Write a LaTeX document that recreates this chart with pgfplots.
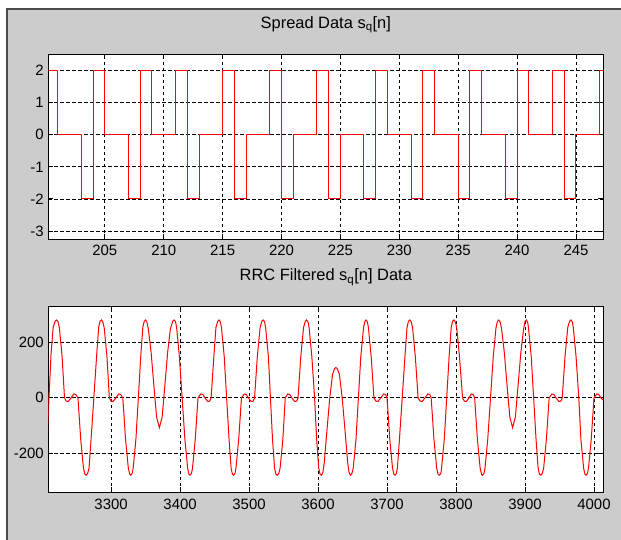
\documentclass[border=0pt]{standalone}
\usepackage{pgfplots}
\pgfplotsset{compat=1.18}
\usepackage{fontspec}
\setmainfont{Liberation Sans}

\definecolor{figgray}{RGB}{204,204,204}

\pgfplotsset{
  matlab/.style={
    scale only axis,
    width=555bp,
    axis background/.style={fill=white},
    axis line style={black, line width=0.9bp},
    tick align=inside,
    xtick pos=both, ytick pos=both,
    major tick length=5bp,
    tick style={black, line width=0.9bp},
    grid=major,
    major grid style={black, line width=0.8bp, dash pattern=on 3.5bp off 2.5bp},
    ticklabel style={font=\fontsize{15}{15}\selectfont},
    xticklabel style={yshift=-3bp},
    yticklabel style={xshift=-1bp},
    title style={at={(0.5,1)}, anchor=base, yshift=20bp, font=\fontsize{16.5}{16.5}\selectfont},
  },
}

\begin{document}
\begin{tikzpicture}
\fill[white] (0,0) rectangle (621bp,-540bp);
\fill[figgray] (7bp,-9bp) rectangle (621bp,-540bp);
\draw[black!70, line width=1.5bp] (7bp,-540bp) -- (7bp,-9bp) -- (621bp,-9bp);

% spread data
\begin{axis}[matlab,
  at={(48.3bp,-239bp)}, anchor=south west,
  height=185bp,
  xmin=200.2, xmax=247.32,
  ymin=-3.25, ymax=2.52,
  xtick={205,210,215,220,225,230,235,240,245},
  xticklabels={205,210,215,220,225,230,235,240,245},
  ytick={-3,-2,-1,0,1,2},
  yticklabels={-3,-2,-1,0,1,2},
  title={Spread Data s\textsubscript{q}[n]},
]
\addplot[const plot, red, line width=1bp] coordinates {
  (200,2) (201,0) (202,0) (203,-2) (204,2) (205,0) (206,0) (207,-2)
  (208,2) (209,0) (210,0) (211,2) (212,-2) (213,0) (214,0) (215,2)
  (216,-2) (217,0) (218,0) (219,2) (220,-2) (221,0) (222,0) (223,2)
  (224,-2) (225,0) (226,0) (227,-2) (228,2) (229,0) (230,0) (231,-2)
  (232,2) (233,0) (234,0) (235,-2) (236,2) (237,0) (238,0) (239,-2)
  (240,2) (241,0) (242,0) (243,2) (244,-2) (245,0) (246,0) (247,2)
  (248,2)
};
\end{axis}

% RRC filtered data
\begin{axis}[matlab,
  at={(48.3bp,-492.3bp)}, anchor=south west,
  height=185.6bp,
  xmin=3209, xmax=4013.5,
  ymin=-342, ymax=330,
  xtick={3300,3400,3500,3600,3700,3800,3900,4000},
  xticklabels={3300,3400,3500,3600,3700,3800,3900,4000},
  ytick={-200,0,200},
  yticklabels={-200,0,200},
  title={RRC Filtered s\textsubscript{q}[n] Data},
]
\addplot[red, line width=1bp] coordinates {
(3208,-130)(3210,0)(3213,160)(3216,255)(3219,278)(3221,282)(3223,276)
(3225,255)(3229,150)(3232.5,0)(3235,-12)(3238,-13)(3242,0)(3246,14)(3249,12)(3252,0)(3256,-150)(3260,-255)(3262,-276)(3264,-280)(3266,-274)
(3268,-255)(3271,-150)(3275,0)(3279,150)(3282,255)(3284,277)(3286,282)(3288,275)
(3290,255)(3294,150)(3297.5,0)(3300,-12)(3303,-13)(3307,0)(3311,14)(3314,12)(3317,0)(3321,-150)(3325,-255)(3327,-276)(3328.5,-280)(3330.5,-274)
(3332,-255)(3336,-150)(3339.5,0)(3343,150)(3346,255)(3348,277)(3350,282)(3352,274)
(3354,250)(3358,165)(3362,45)(3366,-70)(3370,-108)(3374,-70)(3378,45)(3382,165)(3386,250)(3389.5,278)(3391.5,282)(3393.5,275)
(3395,255)(3399,150)(3403,0)(3407,-150)(3411,-255)(3413,-277)(3414.5,-280)(3416.5,-274)
(3418,-255)(3422,-150)(3426,0)(3430,14)(3433,12)(3436,0)(3440,-13)(3443,-12)(3445,0)(3449,150)(3452,255)(3454.5,277)(3456.5,282)(3458.5,275)
(3460,255)(3464,150)(3467.5,0)(3471,-150)(3474,-255)(3476,-277)(3477.5,-280)(3479.5,-274)
(3481,-255)(3485,-150)(3489,0)(3493,14)(3496,12)(3499,0)(3503,-13)(3506,-12)(3508,0)(3512,150)(3516,255)(3518.5,277)(3520.5,282)(3522.5,275)
(3524,255)(3528,150)(3531,0)(3534,-150)(3537,-255)(3539,-277)(3541,-280)(3543,-274)
(3545,-255)(3549,-150)(3552.5,0)(3556,14)(3559,12)(3562,0)(3566,-13)(3569,-12)(3571,0)(3575,150)(3579,255)(3581.5,277)(3583.5,282)(3585.5,275)
(3587,255)(3591,150)(3595,0)(3598,-150)(3601,-255)(3603,-277)(3605,-280)(3607,-270)
(3609,-235)(3613,-115)(3617,0)(3621,85)(3624,106)(3626,110)(3628,105)(3631,85)(3635,0)(3639,-115)(3643,-235)(3645,-270)(3647,-280)(3649,-274)
(3651,-255)(3655,-150)(3658.5,0)(3662,150)(3666,255)(3668,277)(3669.5,282)(3671.5,275)
(3673,255)(3677,150)(3681,0)(3684,-12)(3687,-13)(3691,0)(3695,14)(3698,12)(3700,0)(3704,-150)(3708,-255)(3710,-277)(3711.5,-280)(3713.5,-274)
(3715,-255)(3718,-150)(3722,0)(3726,150)(3729,255)(3731,277)(3733,282)(3735,275)
(3737,255)(3741,150)(3745,0)(3748,-12)(3751,-13)(3755,0)(3759,14)(3762,12)(3764,0)(3768,-150)(3772,-255)(3774,-277)(3776,-280)(3778,-274)
(3779,-255)(3783,-150)(3786.5,0)(3790,150)(3793,255)(3795,277)(3797,282)(3799,275)
(3801,255)(3805,150)(3809.5,0)(3812,-12)(3815,-13)(3819,0)(3822,14)(3825,12)(3827,0)(3831,-150)(3835,-255)(3837,-277)(3838.5,-280)(3840.5,-274)
(3842,-255)(3846,-150)(3850,0)(3854,150)(3858,255)(3860,277)(3862,282)(3864,274)
(3866,250)(3870,165)(3874,45)(3878,-70)(3882,-108)(3886,-70)(3890,45)(3894,165)(3898,250)(3900,277)(3902,282)(3904,272)
(3905,255)(3909,150)(3912.5,0)(3916,-150)(3919,-255)(3921,-277)(3923,-280)(3925,-274)
(3927,-255)(3931,-150)(3935,0)(3939,14)(3942,12)(3945,0)(3949,-13)(3952,-12)(3954,0)(3958,150)(3962,255)(3964.5,277)(3966.5,282)(3968.5,275)
(3970,255)(3974,150)(3978,0)(3981,-150)(3985,-255)(3987,-277)(3988.5,-280)(3990.5,-274)
(3992,-255)(3996,-150)(4000,0)(4004,14)(4007,12)(4010,0)(4014,-10)(4016,-13)
};
\end{axis}

\pgfresetboundingbox
\useasboundingbox (0,0) rectangle (621bp,-540bp);
\end{tikzpicture}
\end{document}
